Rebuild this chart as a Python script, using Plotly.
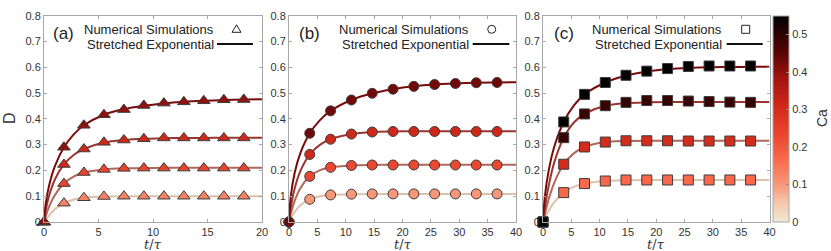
import plotly.graph_objects as go

# ---------------- data ----------------
# simulation times
t_sim_a = [0, 1.83, 3.66, 5.5, 7.33, 9.16, 11.0, 12.83, 14.66, 16.5, 18.33]
t_sim_bc = [0, 3.66, 7.33, 11.0, 14.66, 18.33, 22.0, 25.66, 29.33, 33.0, 36.66]

# simulation values (panel a, bottom -> top)
sim_a4 = [0, 0.073, 0.094, 0.099, 0.100, 0.100, 0.100, 0.100, 0.100, 0.100, 0.100]
sim_a3 = [0, 0.149, 0.192, 0.204, 0.208, 0.209, 0.209, 0.209, 0.209, 0.209, 0.209]
sim_a2 = [0, 0.223, 0.283, 0.309, 0.318, 0.323, 0.326, 0.326, 0.326, 0.326, 0.326]
sim_a1 = [0, 0.290, 0.375, 0.416, 0.436, 0.452, 0.461, 0.466, 0.470, 0.474, 0.475]
# panel b
sim_b4 = [0, 0.088, 0.105, 0.108, 0.109, 0.109, 0.109, 0.109, 0.109, 0.109, 0.109]
sim_b3 = [0, 0.177, 0.212, 0.219, 0.221, 0.221, 0.221, 0.221, 0.221, 0.221, 0.221]
sim_b2 = [0, 0.262, 0.321, 0.341, 0.349, 0.351, 0.351, 0.351, 0.351, 0.351, 0.351]
sim_b1 = [0, 0.344, 0.431, 0.473, 0.499, 0.515, 0.526, 0.533, 0.537, 0.540, 0.541]
# panel c
sim_c4 = [0, 0.114, 0.149, 0.159, 0.163, 0.163, 0.163, 0.163, 0.163, 0.163, 0.163]
sim_c3 = [0, 0.224, 0.291, 0.310, 0.315, 0.315, 0.315, 0.314, 0.314, 0.314, 0.314]
sim_c2 = [0, 0.327, 0.419, 0.451, 0.464, 0.471, 0.471, 0.469, 0.467, 0.465, 0.464]
sim_c1 = [0, 0.388, 0.495, 0.541, 0.569, 0.585, 0.595, 0.603, 0.605, 0.605, 0.605]

# capillary numbers (marker colours)
ca_a = [0.13, 0.24, 0.31, 0.40]
ca_b = [0.10, 0.23, 0.31, 0.43]
ca_c = [0.17, 0.30, 0.49, 0.55]

# stretched-exponential curves
t_fit_a = [0, 0.15, 0.5, 1.0, 1.83, 2.75, 3.66, 5.5, 7.33, 9.16, 11.0, 12.83, 14.66, 16.5, 18.33, 20.0]
fit_a4 = [0, 0.008, 0.027, 0.049, 0.073, 0.087, 0.094, 0.099, 0.100, 0.100, 0.100, 0.100, 0.100, 0.100, 0.100, 0.100]
fit_a3 = [0, 0.022, 0.063, 0.105, 0.149, 0.177, 0.192, 0.204, 0.208, 0.209, 0.210, 0.210, 0.210, 0.210, 0.210, 0.210]
fit_a2 = [0, 0.045, 0.107, 0.165, 0.223, 0.261, 0.283, 0.308, 0.318, 0.323, 0.325, 0.326, 0.326, 0.327, 0.327, 0.327]
fit_a1 = [0, 0.069, 0.147, 0.217, 0.290, 0.341, 0.375, 0.416, 0.438, 0.451, 0.460, 0.466, 0.470, 0.473, 0.475, 0.476]

t_fit_bc = [0, 0.3, 1.0, 2.0, 3.66, 5.5, 7.33, 11.0, 14.66, 18.33, 22.0, 25.66, 29.33, 33.0, 36.66, 40.0]
fit_b4 = [0, 0.014, 0.039, 0.065, 0.088, 0.100, 0.105, 0.108, 0.109, 0.109, 0.109, 0.109, 0.109, 0.109, 0.109, 0.109]
fit_b3 = [0, 0.030, 0.082, 0.131, 0.177, 0.201, 0.212, 0.219, 0.221, 0.222, 0.222, 0.222, 0.222, 0.222, 0.222, 0.222]
fit_b2 = [0, 0.054, 0.130, 0.197, 0.262, 0.300, 0.321, 0.341, 0.349, 0.351, 0.352, 0.352, 0.352, 0.352, 0.352, 0.352]
fit_b1 = [0, 0.097, 0.191, 0.267, 0.344, 0.396, 0.431, 0.473, 0.499, 0.515, 0.526, 0.533, 0.537, 0.540, 0.541, 0.542]

fit_c4 = [0, 0.014, 0.044, 0.077, 0.114, 0.137, 0.149, 0.159, 0.162, 0.163, 0.163, 0.163, 0.163, 0.163, 0.163, 0.163]
fit_c3 = [0, 0.028, 0.088, 0.153, 0.224, 0.267, 0.291, 0.310, 0.314, 0.315, 0.315, 0.315, 0.315, 0.315, 0.315, 0.315]
fit_c2 = [0, 0.051, 0.140, 0.232, 0.327, 0.387, 0.419, 0.451, 0.461, 0.464, 0.465, 0.465, 0.465, 0.465, 0.465, 0.465]
fit_c1 = [0, 0.093, 0.199, 0.293, 0.388, 0.453, 0.495, 0.541, 0.568, 0.584, 0.592, 0.597, 0.600, 0.601, 0.602, 0.602]

x_ticks_a = [0, 5, 10, 15, 20]
x_ticks_bc = [0, 5, 10, 15, 20, 25, 30, 35, 40]
cbar_ticks = [0, 0.1, 0.2, 0.3, 0.4, 0.5]
panel_labels = ["(a)", "(b)", "(c)"]
legend_sim = "Numerical Simulations"
legend_fit = "Stretched Exponential"

# ---------------- styles ----------------
W, H = 831, 251
FONT = "Liberation Sans, Arial, sans-serif"
line_colors = ["#dcc2a8", "#b06658", "#9a3530", "#7a0a0a"]  # bottom -> top
colorscale = [
    [0.00, "#f1ead3"], [0.10, "#f5c4a8"], [0.18, "#f8977b"], [0.30, "#fa6b4c"],
    [0.42, "#ec4630"], [0.55, "#d42a1a"], [0.70, "#a01410"], [0.82, "#5a0404"],
    [1.00, "#000000"],
]
CMAX = 0.55

def px_x(p):
    return p / W

def px_y(p):
    return 1 - p / H

plot_y0, plot_y1 = 15.7, 222.0
x_doms = [(44, 262), (289, 516), (543, 769.5)]

fig = go.Figure()

panels = [
    dict(t_sim=t_sim_a, sims=[sim_a4, sim_a3, sim_a2, sim_a1], ca=ca_a,
         t_fit=t_fit_a, fits=[fit_a4, fit_a3, fit_a2, fit_a1], sym="triangle-up", ax=""),
    dict(t_sim=t_sim_bc, sims=[sim_b4, sim_b3, sim_b2, sim_b1], ca=ca_b,
         t_fit=t_fit_bc, fits=[fit_b4, fit_b3, fit_b2, fit_b1], sym="circle", ax="2"),
    dict(t_sim=t_sim_bc, sims=[sim_c4, sim_c3, sim_c2, sim_c1], ca=ca_c,
         t_fit=t_fit_bc, fits=[fit_c4, fit_c3, fit_c2, fit_c1], sym="square", ax="3"),
]

for p in panels:
    xa, ya = "x" + p["ax"], "y" + p["ax"]
    for i in range(4):
        fig.add_trace(go.Scatter(
            x=p["t_fit"], y=p["fits"][i], mode="lines", xaxis=xa, yaxis=ya,
            line=dict(color=line_colors[i], width=2, shape="spline", smoothing=0.8),
            showlegend=False, hoverinfo="skip", cliponaxis=False))
    for i in range(4):
        fig.add_trace(go.Scatter(
            x=p["t_sim"], y=p["sims"][i], mode="markers", xaxis=xa, yaxis=ya,
            marker=dict(symbol=p["sym"], size=10 if p["sym"] != "triangle-up" else 11,
                        color=[p["ca"][i]] * len(p["t_sim"]), coloraxis="coloraxis",
                        line=dict(color="#3c3c3c", width=1)),
            showlegend=False, cliponaxis=False))

axis_common = dict(showline=True, mirror="ticks", linecolor="#a8a8a8", linewidth=1,
                   ticks="inside", ticklen=3, tickcolor="#a8a8a8", showgrid=False,
                   zeroline=False, automargin=False,
                   tickfont=dict(family=FONT, size=11, color="#333333"))

layout = dict(
    width=W, height=H, margin=dict(l=0, r=0, t=0, b=0, autoexpand=False),
    paper_bgcolor="white", plot_bgcolor="white", showlegend=False,
    coloraxis=dict(
        colorscale=colorscale, cmin=0, cmax=CMAX,
        colorbar=dict(
            thickness=16, thicknessmode="pixels", len=(plot_y1 - plot_y0) / H, lenmode="fraction",
            x=px_x(773), xanchor="left", xpad=0, y=px_y((plot_y0 + plot_y1) / 2),
            yanchor="middle", ypad=0, outlinewidth=1, outlinecolor="#a8a8a8",
            ticks="inside", ticklen=3, tickcolor="#888888",
            tickvals=cbar_ticks, ticktext=[f"{v:g}" for v in cbar_ticks],
            tickfont=dict(family=FONT, size=11, color="#333333"),
        ),
    ),
)
for k, (d0, d1) in enumerate(x_doms):
    suf = "" if k == 0 else str(k + 1)
    xr = [0, 20] if k == 0 else [0, 40]
    tv = x_ticks_a if k == 0 else x_ticks_bc
    layout["xaxis" + suf] = dict(domain=[px_x(d0), px_x(d1)], range=xr, tickvals=tv,
                                 anchor="y" + suf, **axis_common)
    layout["yaxis" + suf] = dict(domain=[px_y(plot_y1), px_y(plot_y0)], range=[0, 0.8],
                                 dtick=0.1, tick0=0, anchor="x" + suf, **axis_common)
fig.update_layout(**layout)

# ---------------- annotations / legend ----------------
annotations = []
shapes = []
text_right = [216, 470.7, 724.3]
sym_x = [236.5, 491.7, 745.7]
line_x = [(217, 253), (472.7, 509.3), (726.7, 762.7)]
label_x = [51, 297, 552]
for k in range(3):
    annotations.append(dict(text=panel_labels[k], x=px_x(label_x[k]), y=px_y(33), xref="paper",
                            yref="paper", xanchor="left", yanchor="middle", showarrow=False,
                            font=dict(family=FONT, size=17, color="#222222")))
    annotations.append(dict(text=legend_sim, x=px_x(text_right[k]), y=px_y(29.3), xref="paper",
                            yref="paper", xanchor="right", yanchor="middle", showarrow=False,
                            font=dict(family=FONT, size=13, color="#222222")))
    annotations.append(dict(text=legend_fit, x=px_x(text_right[k]), y=px_y(44.3), xref="paper",
                            yref="paper", xanchor="right", yanchor="middle", showarrow=False,
                            font=dict(family=FONT, size=13, color="#222222")))
    shapes.append(dict(type="line", xref="paper", yref="paper", x0=px_x(line_x[k][0]),
                       x1=px_x(line_x[k][1]), y0=px_y(44), y1=px_y(44),
                       line=dict(color="#111111", width=2)))
    common = dict(xref="paper", yref="paper", xsizemode="pixel", ysizemode="pixel",
                  xanchor=px_x(sym_x[k]), yanchor=px_y(29.3), line=dict(color="#222222", width=1),
                  fillcolor="rgba(0,0,0,0)")
    if k == 0:
        shapes.append(dict(type="path", path="M-4.5,-3 L4.5,-3 L0,4.5 Z", **common))
    elif k == 1:
        shapes.append(dict(type="circle", x0=-4, x1=4, y0=-4, y1=4, **common))
    else:
        shapes.append(dict(type="rect", x0=-4, x1=4, y0=-4, y1=4, **common))
    cx = (x_doms[k][0] + x_doms[k][1]) / 2
    annotations.append(dict(text="<i>t</i>/<i>τ</i>", x=px_x(cx), y=px_y(244), xref="paper",
                            yref="paper", xanchor="center", yanchor="middle", showarrow=False,
                            font=dict(family="DejaVu Serif, serif", size=13, color="#333333")))
annotations.append(dict(text="D", x=px_x(9), y=px_y(118), xref="paper", yref="paper",
                        xanchor="center", yanchor="middle", showarrow=False, textangle=-90,
                        font=dict(family=FONT, size=16, color="#333333")))
annotations.append(dict(text="Ca", x=px_x(822), y=px_y(118), xref="paper", yref="paper",
                        xanchor="center", yanchor="middle", showarrow=False, textangle=-90,
                        font=dict(family=FONT, size=14, color="#333333")))
fig.update_layout(annotations=annotations, shapes=shapes)

fig.write_html("out.html", config={"displayModeBar": False},
               post_script="document.body.style.margin='0px';document.body.style.overflow='hidden';")
